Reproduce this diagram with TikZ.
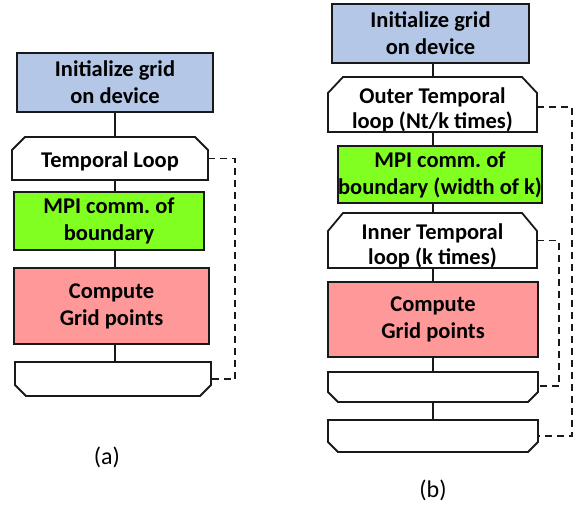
\documentclass[tikz,border=0pt]{standalone}
\usepackage{fontspec}
\setmainfont{Carlito}
\frenchspacing
\definecolor{blueF}{RGB}{180,199,231}
\definecolor{greenF}{RGB}{128,255,32}
\definecolor{pinkF}{RGB}{255,153,153}
\definecolor{edge}{RGB}{25,25,25}
\begin{document}
\begin{tikzpicture}[x=1pt,y=-1pt,
  box/.style={draw=edge,line width=1.8pt,inner sep=0pt,outer sep=0pt,align=center,
    font=\bfseries\fontsize{22.5}{27}\selectfont},
  plainbox/.style={inner sep=0pt,outer sep=0pt,align=center,
    font=\bfseries\fontsize{22.5}{25}\selectfont},
  outline/.style={draw=edge,line width=1.8pt,line join=miter},
  link/.style={draw=edge,line width=1.8pt},
  loopback/.style={draw=edge,line width=1.5pt,dash pattern=on 7pt off 5pt},
  caption/.style={font=\fontsize{24}{28}\selectfont}
]
\useasboundingbox (0,0) rectangle (580,506);

% ---------- (a) ----------
\node[box,fill=blueF,minimum width=196pt,minimum height=59pt] (initA) at (115,82.5) {Initialize grid\\on device};
\node[plainbox,minimum width=196pt,minimum height=43pt] (loopA) at (110,158.5) {\raisebox{-9pt}[0pt][0pt]{Temporal Loop}};
\node[box,fill=greenF,minimum width=190pt,minimum height=58pt] (mpiA) at (109,221) {MPI comm. of\\boundary};
\node[box,fill=pinkF,minimum width=195pt,minimum height=76pt] (compA) at (111.5,306) {Compute\\Grid points};
\node[plainbox,minimum width=196pt,minimum height=34pt] (endA) at (113,379) {};

\draw[outline] ([yshift=-13pt]loopA.north west) -- ([xshift=13pt]loopA.north west)
  -- ([xshift=-13pt]loopA.north east) -- ([yshift=-13pt]loopA.north east)
  -- (loopA.south east) -- (loopA.south west) -- cycle;
\draw[outline] (endA.north west) -- (endA.north east) -- ([yshift=11pt]endA.south east)
  -- ([xshift=-11pt]endA.south east) -- ([xshift=11pt]endA.south west)
  -- ([yshift=11pt]endA.south west) -- cycle;

\draw[link] (initA.south) -- (initA.south |- loopA.north);
\draw[link] (loopA.south -| initA.south) -- (mpiA.north -| initA.south);
\draw[link] (mpiA.south -| initA.south) -- (compA.north -| initA.south);
\draw[link] (compA.south -| initA.south) -- (endA.north -| initA.south);
\draw[loopback] (loopA.east) -- ++(27,0) |- (endA.east);

\node[caption] (capA) at (107,457) {(a)};

% ---------- (b) ----------
\node[box,fill=blueF,minimum width=197pt,minimum height=59pt] (initB) at (430.5,33.5) {Initialize grid\\on device};
\node[plainbox,minimum width=209pt,minimum height=55pt] (outerB) at (432.5,104.5) {\raisebox{-11.5pt}[0pt][0pt]{\begin{tabular}{@{}c@{}}Outer Temporal\\loop (Nt/k times)\end{tabular}}};
\node[box,fill=greenF,minimum width=198pt,minimum height=57pt] (mpiB) at (440,174.5) {MPI comm. of\\boundary (width of k)};
\node[plainbox,minimum width=209pt,minimum height=55pt] (innerB) at (432.5,240.5) {\raisebox{-11.5pt}[0pt][0pt]{\begin{tabular}{@{}c@{}}Inner Temporal\\loop (k times)\end{tabular}}};
\node[box,fill=pinkF,minimum width=210pt,minimum height=75pt] (compB) at (433,319.5) {Compute\\Grid points};
\node[plainbox,minimum width=210pt,minimum height=30pt] (endOneB) at (433,387) {};
\node[plainbox,minimum width=210pt,minimum height=32pt] (endTwoB) at (433,436) {};

\draw[outline] ([yshift=-16pt]outerB.north west) -- ([xshift=15pt]outerB.north west)
  -- ([xshift=-15pt]outerB.north east) -- ([yshift=-16pt]outerB.north east)
  -- (outerB.south east) -- (outerB.south west) -- cycle;
\draw[outline] ([yshift=-18pt]innerB.north west) -- ([xshift=15pt]innerB.north west)
  -- ([xshift=-15pt]innerB.north east) -- ([yshift=-18pt]innerB.north east)
  -- (innerB.south east) -- (innerB.south west) -- cycle;
\draw[outline] (endOneB.north west) -- (endOneB.north east) -- ([yshift=10pt]endOneB.south east)
  -- ([xshift=-10pt]endOneB.south east) -- ([xshift=10pt]endOneB.south west)
  -- ([yshift=10pt]endOneB.south west) -- cycle;
\draw[outline] (endTwoB.north west) -- (endTwoB.north east) -- ([yshift=10pt]endTwoB.south east)
  -- ([xshift=-10pt]endTwoB.south east) -- ([xshift=10pt]endTwoB.south west)
  -- ([yshift=10pt]endTwoB.south west) -- cycle;

\coordinate (axB) at (433,0);
\draw[link] (initB.south -| axB) -- (outerB.north -| axB);
\draw[link] (outerB.south -| axB) -- (mpiB.north -| axB);
\draw[link] (mpiB.south -| axB) -- (innerB.north -| axB);
\draw[link] (innerB.south -| axB) -- (compB.north -| axB);
\draw[link] (compB.south -| axB) -- (endOneB.north -| axB);
\draw[link] (endOneB.south -| axB) -- (endTwoB.north -| axB);
\draw[loopback] ([yshift=-2.5pt]outerB.east) -- ++(35,0) |- (endTwoB.east);
\draw[loopback] (innerB.east) -- ++(22,0) |- ([yshift=1pt]endOneB.east);

\node[caption] (capB) at (433,490) {(b)};
\end{tikzpicture}
\end{document}
